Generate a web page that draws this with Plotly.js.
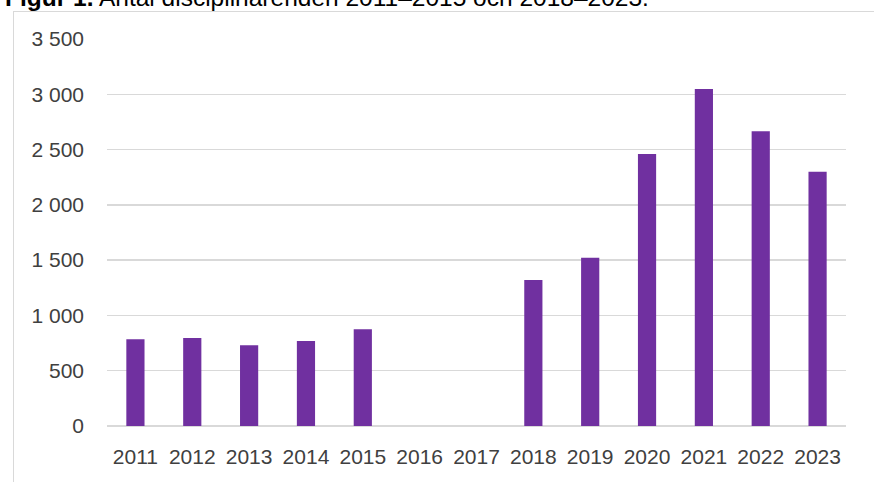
<!DOCTYPE html>
<html>
<head>
<meta charset="utf-8">
<script src="https://cdn.plot.ly/plotly-3.0.1.min.js"></script>
<style>
html, body { margin: 0; padding: 0; background: #ffffff; }
#wrap { position: relative; width: 874px; height: 482px; overflow: hidden; }
#frame { position: absolute; left: 13px; top: 11px; width: 874px; height: 482px;
         border-top: 1.5px solid #d9d9d9; border-left: 1.5px solid #d9d9d9; }
#chart { position: absolute; left: 0; top: 0; width: 874px; height: 482px; }
</style>
</head>
<body>
<div id="wrap">
  <div id="frame"></div>
  <div id="chart"></div>
</div>
<script>
const years = ["2011","2012","2013","2014","2015","2016","2017","2018","2019","2020","2021","2022","2023"];
const cases = [784, 796, 730, 769, 874, null, null, 1320, 1522, 2460, 3048, 2665, 2300];
const yTicks = [0, 500, 1000, 1500, 2000, 2500, 3000, 3500];
const yTickText = ["0", "500", "1 000", "1 500", "2 000", "2 500", "3 000", "3 500"];
const titleText = "<b>Figur 1.</b> Antal disciplinärenden 2011–2015 och 2018–2023.";

const fontFam = "Liberation Sans, Arial, sans-serif";

Plotly.newPlot("chart", [{
  type: "bar",
  x: years,
  y: cases,
  marker: { color: "#7030a0" },
  hoverinfo: "x+y"
}], {
  width: 874, height: 482,
  margin: { l: 107, r: 28, t: 39, b: 56, pad: 0 },
  paper_bgcolor: "rgba(0,0,0,0)",
  plot_bgcolor: "rgba(0,0,0,0)",
  bargap: 0.68,
  showlegend: false,
  font: { family: fontFam, size: 21, color: "#404040" },
  xaxis: {
    type: "category",
    showgrid: false,
    showline: false,
    zeroline: false,
    ticks: "",
    ticklabelstandoff: 16,
    tickfont: { family: fontFam, size: 21, color: "#404040" },
    fixedrange: true
  },
  yaxis: {
    range: [0, 3500],
    tickvals: yTicks,
    ticktext: yTickText,
    showgrid: true,
    gridcolor: "#d9d9d9",
    gridwidth: 1.5,
    zeroline: true,
    zerolinecolor: "#d9d9d9",
    zerolinewidth: 1.5,
    showline: false,
    ticks: "",
    ticklabelstandoff: 22,
    tickfont: { family: fontFam, size: 21, color: "#404040" },
    fixedrange: true
  },
  annotations: [{
    text: titleText,
    xref: "paper", yref: "paper",
    x: -0.141, xanchor: "left",
    y: 1.067, yanchor: "bottom",
    showarrow: false,
    font: { family: fontFam, size: 24.5, color: "#000000" }
  }]
}, { displayModeBar: false, staticPlot: true });
</script>
</body>
</html>
